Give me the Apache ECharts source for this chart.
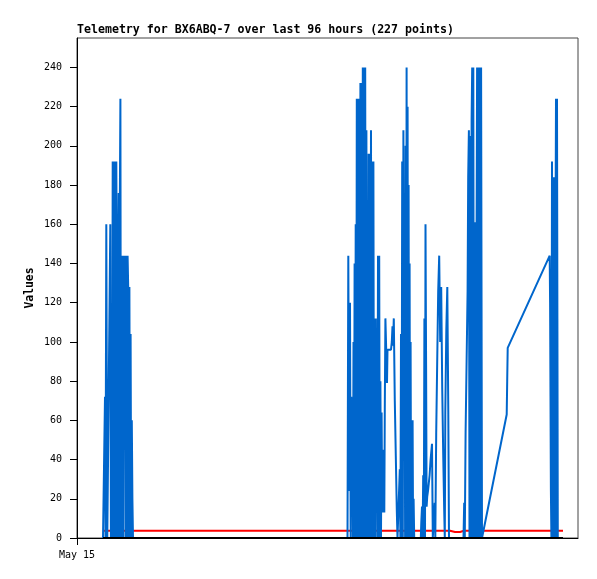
<!DOCTYPE html>
<html>
<head>
<meta charset="utf-8">
<script src="https://cdn.jsdelivr.net/npm/echarts@6/dist/echarts.min.js"></script>
<style>
    html, body {margin: 0; padding: 0; background: #fff;}
    #chart {width: 597px; height: 579px;}
</style>
</head>
<body>
<div id="chart"></div>
<script>
// hours since May 15 00:00
const blueTimes = [
    4.982, 5.365, 5.461, 5.614, 5.806, 6.381, 6.496, 6.611, 6.726, 6.841,
    6.956, 7.071, 7.186, 7.301, 7.416, 7.531, 7.646, 7.761, 7.876, 7.991,
    8.105, 8.220, 8.316, 8.431, 8.546, 8.661, 8.776, 8.891, 9.006, 9.121,
    9.236, 9.351, 9.466, 9.581, 9.696, 9.811, 9.926, 10.041, 10.156, 10.271,
    10.386, 10.501, 10.616, 10.731,
    51.833, 51.986, 52.158, 52.311, 52.445, 52.560, 52.656, 52.772, 52.867, 52.982,
    53.078, 53.193, 53.289, 53.404, 53.499, 53.614, 53.730, 53.844, 53.959, 54.074,
    54.189, 54.305, 54.419, 54.534, 54.649, 54.764, 54.879, 54.994, 55.109, 55.224,
    55.339, 55.454, 55.569, 55.665, 55.760, 55.875, 55.990, 56.105, 56.220, 56.335,
    56.450, 56.565, 56.680, 56.795, 56.910, 57.025, 57.140, 57.255, 57.350, 57.446,
    57.562, 57.677, 57.792, 57.907, 58.021, 58.137, 58.251, 58.366, 58.481, 58.596,
    58.692, 58.788, 58.883, 58.979, 59.095, 59.248, 59.401, 59.497, 60.167, 60.321,
    60.455, 60.551, 60.704, 60.895, 61.087, 61.279, 61.413, 61.700, 61.853, 61.969,
    62.083, 62.198, 62.313, 62.428, 62.544, 62.658, 62.773, 62.869, 62.965, 63.061,
    63.157, 63.252, 63.348, 63.444, 63.540, 63.636, 63.731, 63.827, 63.923, 64.019,
    64.115, 64.210, 64.306, 64.402, 64.498, 64.613,
    65.878, 65.974, 66.108, 66.223, 66.338, 66.453, 66.568, 66.683, 66.779, 66.894,
    66.990, 67.104, 67.258, 67.411, 67.564, 67.756, 68.024, 68.177, 68.445, 68.541,
    68.656, 68.829, 69.021, 69.212, 69.404, 69.595, 69.787, 69.979, 70.170, 70.362,
    70.477, 70.573, 70.765, 70.956, 71.148, 71.281,
    74.060, 74.194, 74.309, 74.462, 74.654, 74.845, 74.960, 75.094, 75.209, 75.305,
    75.401, 75.516, 75.612, 75.727, 75.842, 75.938, 76.034, 76.129, 76.225, 76.340,
    76.455, 76.570, 76.666, 76.762, 76.857, 76.953, 77.049, 77.145, 77.240, 77.336,
    77.432, 77.528, 77.605,
    82.338, 82.434, 82.530, 90.577, 90.654, 90.730, 90.807, 90.903, 91.018, 91.114,
    91.210, 91.306, 91.401, 91.497, 91.785, 91.880, 91.976, 92.053, 92.129, 93.126
]
const blueValues = [
    0, 72, 0, 160, 0, 160, 0, 96, 0, 192,
    0, 192, 0, 192, 0, 192, 128, 0, 128, 176,
    0, 176, 224, 0, 144, 0, 144, 0, 144, 56,
    144, 0, 144, 0, 144, 128, 0, 128, 0, 104,
    0, 60, 20, 0,
    0, 144, 24, 120, 0, 72, 20, 60, 0, 100,
    0, 140, 0, 160, 0, 224, 0, 224, 0, 224,
    0, 232, 0, 232, 0, 240, 0, 240, 0, 240,
    0, 208, 0, 172, 0, 196, 0, 196, 0, 208,
    0, 192, 0, 192, 0, 112, 0, 112, 24, 72,
    0, 144, 0, 144, 0, 80, 0, 64, 13, 40,
    13, 45, 13, 66, 112, 96, 79, 96, 96, 100,
    108, 98, 112, 70, 42, 14, 0, 0, 35, 0,
    104, 0, 192, 0, 208, 45, 120, 0, 200, 0,
    240, 0, 220, 0, 180, 0, 140, 0, 100, 0,
    60, 0, 60, 0, 20, 0,
    0, 8, 16, 0, 32, 0, 112, 0, 160, 88,
    16, 21, 24, 28, 32, 40, 48, 0, 0, 18,
    0, 53, 90, 126, 144, 100, 128, 77, 43, 14,
    0, 64, 106, 128, 64, 0,
    0, 18, 0, 54, 90, 126, 184, 208, 0, 205,
    195, 0, 213, 240, 0, 240, 48, 161, 0, 161,
    0, 161, 240, 0, 240, 224, 0, 224, 240, 0,
    240, 240, 0,
    63, 80, 97, 144, 120, 72, 24, 0, 192, 0,
    184, 0, 184, 0, 224, 0, 224, 112, 0, 0
]
const redTimes = [4.982, 71.473, 71.856, 72.431, 73.389, 73.772, 74.155, 93.126]
const redValues = [3.7, 3.7, 3.4, 3.1, 3.1, 3.4, 3.7, 3.7]
const blackTimes = [4.982, 93.126]
const blackValues = [0, 0]

const yTicks = [0, 20, 40, 60, 80, 100, 120, 140, 160, 180, 200, 220, 240]
const xTicks = [0]
const xTickLabels = ['May 15']

const MONO = '"DejaVu Sans Mono", "Liberation Mono", monospace'

function zip(xs, ys) {
    return xs.map((x, i) => [x, ys[i]])
}

const chart = echarts.init(document.getElementById('chart'))
chart.setOption({
    animation: false,
    title: {
        text: 'Telemetry for BX6ABQ-7 over last 96 hours (227 points)',
        left: 77,
        top: 24,
        padding: 0,
        textStyle: {fontFamily: MONO, fontSize: 11.6, fontWeight: 'bold', color: '#000'}
    },
    grid: {
        left: 77, right: 19, top: 38, bottom: 41,
        show: true, borderColor: '#444', borderWidth: 1
    },
    xAxis: {
        type: 'value',
        min: 0,
        max: 96,
        axisLine: {lineStyle: {color: '#000', width: 1}},
        axisTick: {length: 7, customValues: xTicks, lineStyle: {color: '#000'}},
        axisLabel: {
            customValues: xTicks,
            margin: 12,
            fontFamily: MONO, fontSize: 10, color: '#000',
            formatter: v => xTickLabels[xTicks.indexOf(v)] || ''
        },
        splitLine: {show: false}
    },
    yAxis: {
        type: 'value',
        min: 0,
        max: 255,
        name: 'Values',
        nameLocation: 'middle',
        nameRotate: 90,
        nameGap: 41,
        nameMoveOverlap: false,
        nameTextStyle: {fontFamily: MONO, fontSize: 11.4, fontWeight: 'bold', color: '#000'},
        axisLine: {show: true, lineStyle: {color: '#000', width: 1}},
        axisTick: {show: true, length: 7, customValues: yTicks, lineStyle: {color: '#000'}},
        axisLabel: {customValues: yTicks, margin: 15, fontFamily: MONO, fontSize: 10, color: '#000'},
        splitLine: {show: false}
    },
    series: [
        {
            type: 'line', data: zip(redTimes, redValues), symbol: 'none',
            lineStyle: {color: '#ff0000', width: 2}
        },
        {
            type: 'line', data: zip(blueTimes, blueValues), symbol: 'none',
            lineStyle: {color: '#0066cc', width: 2}
        },
        {
            type: 'line', data: zip(blackTimes, blackValues), symbol: 'none',
            lineStyle: {color: '#000', width: 2}
        }
    ]
})
</script>
</body>
</html>
